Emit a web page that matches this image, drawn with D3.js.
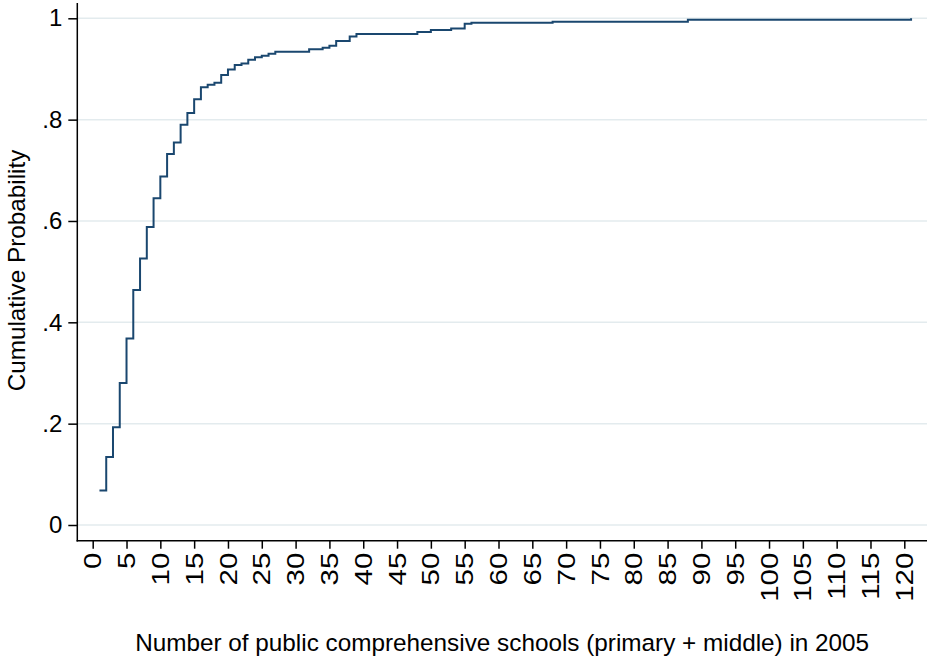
<!DOCTYPE html>
<html>
<head>
<meta charset="utf-8">
<script src="https://cdn.jsdelivr.net/npm/d3@7"></script>
<style>
  html, body { margin: 0; padding: 0; background: #ffffff; }
  svg { display: block; }
  text { font-family: Arial, "Liberation Sans", sans-serif; fill: #000; }
</style>
</head>
<body>
<svg id="chart" width="927" height="659"></svg>
<script>
// ---- Data ----
const schoolCounts = [1, 2, 3, 4, 5, 6, 7, 8, 9, 10, 11, 12, 13, 14, 15, 16, 17, 18, 19, 20,
  21, 22, 23, 24, 25, 26, 27, 32, 34, 35, 36, 38, 39, 48, 50, 53, 55, 56, 68, 88, 121];
const cumulativeProb = [0.068, 0.134, 0.193, 0.280, 0.368, 0.464, 0.526, 0.588, 0.645, 0.688,
  0.732, 0.755, 0.790, 0.813, 0.840, 0.864, 0.869, 0.873, 0.888, 0.899,
  0.908, 0.911, 0.918, 0.923, 0.926, 0.930, 0.934, 0.939, 0.942, 0.946,
  0.955, 0.964, 0.969, 0.973, 0.977, 0.980, 0.989, 0.991, 0.993, 0.997, 1.000];
const xTickValues = d3.range(0, 121, 5);
const yTickValues = [0, 0.2, 0.4, 0.6, 0.8, 1];
const yTickLabels = ["0", ".2", ".4", ".6", ".8", "1"];
const xTitle = "Number of public comprehensive schools (primary + middle) in 2005";
const yTitle = "Cumulative Probability";

// ---- Layout ----
const svg = d3.select("#chart");
const plotLeft = 77.3, plotRight = 927, plotTop = 3, plotBottom = 540.7;

const x = d3.scaleLinear().domain([0, 120]).range([92.7, 904.3]);
const y = d3.scaleLinear().domain([0, 1]).range([525, 18.3]);

// gridlines
svg.append("g").selectAll("line")
  .data(yTickValues)
  .join("line")
  .attr("x1", plotLeft).attr("x2", plotRight)
  .attr("y1", d => y(d)).attr("y2", d => y(d))
  .attr("stroke", "#e3ebee").attr("stroke-width", 1.5);

// step line
const data = schoolCounts.map((c, i) => ({ c, p: cumulativeProb[i] }));
const line = d3.line().x(d => x(d.c)).y(d => y(d.p)).curve(d3.curveStepAfter);
svg.append("path")
  .datum(data)
  .attr("d", line)
  .attr("fill", "none")
  .attr("stroke", "#1a476f")
  .attr("stroke-width", 2);

// y axis
const yAxis = d3.axisLeft(y).tickValues(yTickValues)
  .tickFormat((d, i) => yTickLabels[i]).tickSize(9).tickPadding(6);
const gy = svg.append("g").attr("transform", `translate(${plotLeft},0)`).call(yAxis);
gy.select(".domain").remove();
gy.selectAll(".tick line").attr("stroke", "#000").attr("stroke-width", 1.5);
gy.selectAll(".tick text").attr("font-size", 24).attr("font-family", "Arial, 'Liberation Sans', sans-serif").attr("fill", "#000");

// x axis
const stretch = 1.28;
const xAxis = d3.axisBottom(x).tickValues(xTickValues).tickSize(8);
const gx = svg.append("g").attr("transform", `translate(0,${plotBottom})`).call(xAxis);
gx.select(".domain").remove();
gx.selectAll(".tick line").attr("stroke", "#000").attr("stroke-width", 1.5);
gx.selectAll(".tick text")
  .attr("font-size", 23)
  .attr("font-family", "Arial, 'Liberation Sans', sans-serif")
  .attr("fill", "#000")
  .attr("transform", `rotate(-90) scale(${stretch},1)`)
  .attr("text-anchor", "end")
  .attr("x", -12 / stretch)
  .attr("y", 0)
  .attr("dy", "0.35em");

// axis lines
svg.append("line").attr("x1", plotLeft).attr("x2", plotLeft)
  .attr("y1", plotTop).attr("y2", plotBottom + 0.75)
  .attr("stroke", "#000").attr("stroke-width", 1.5);
svg.append("line").attr("x1", plotLeft - 0.75).attr("x2", plotRight)
  .attr("y1", plotBottom).attr("y2", plotBottom)
  .attr("stroke", "#000").attr("stroke-width", 1.5);

// titles
svg.append("text")
  .attr("x", (plotLeft + plotRight) / 2)
  .attr("y", 650.5)
  .attr("text-anchor", "middle")
  .attr("font-size", 24.3)
  .text(xTitle);

svg.append("text")
  .attr("transform", `translate(24.5,270.5) rotate(-90)`)
  .attr("text-anchor", "middle")
  .attr("font-size", 24.3)
  .text(yTitle);
</script>
</body>
</html>
